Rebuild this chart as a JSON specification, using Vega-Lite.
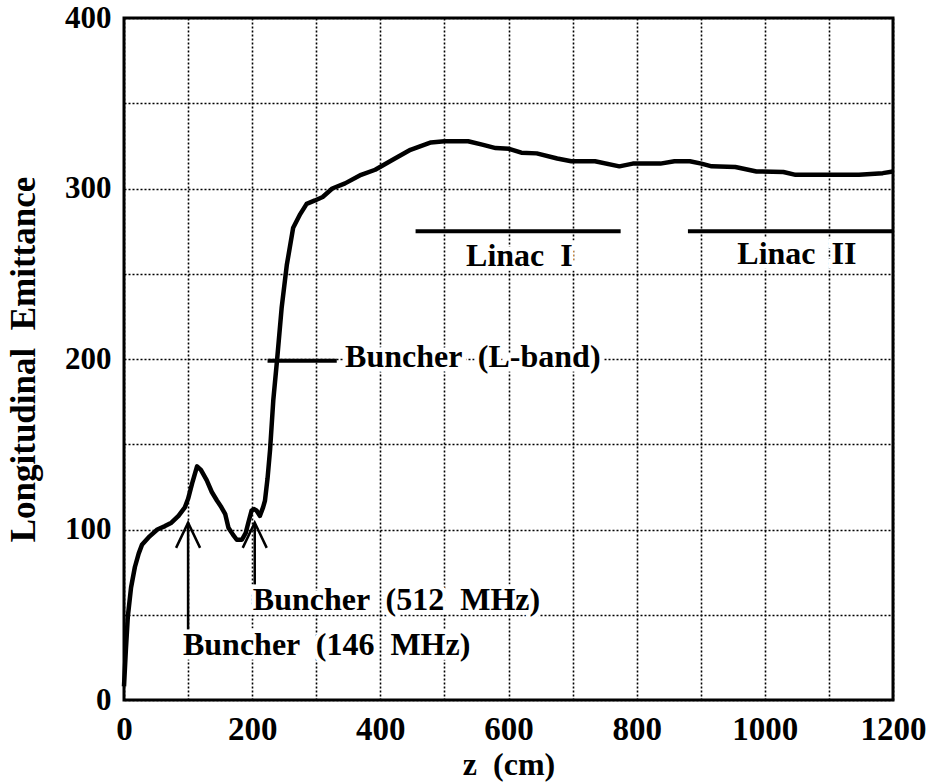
{
  "$schema": "https://vega.github.io/schema/vega-lite/v6.json",
  "width": 769,
  "height": 682,
  "autosize": {"type": "none"},
  "padding": {"left": 124, "top": 18, "right": 46, "bottom": 82},
  "background": "white",
  "config": {
    "view": {"stroke": "black", "strokeWidth": 3},
    "font": "Liberation Serif"
  },
  "datasets": {
    "curve": [
      {"z": 0, "E": 8}, {"z": 3, "E": 30}, {"z": 6, "E": 49}, {"z": 11, "E": 66}, {"z": 17, "E": 78},
      {"z": 23, "E": 86}, {"z": 28, "E": 91}, {"z": 40, "E": 96}, {"z": 52, "E": 100}, {"z": 64, "E": 102},
      {"z": 74, "E": 104}, {"z": 85, "E": 108}, {"z": 95, "E": 113}, {"z": 100, "E": 118}, {"z": 107, "E": 128},
      {"z": 114, "E": 137}, {"z": 120, "E": 135}, {"z": 129, "E": 129}, {"z": 137, "E": 122}, {"z": 145, "E": 117},
      {"z": 152, "E": 113}, {"z": 158, "E": 109}, {"z": 163, "E": 101}, {"z": 170, "E": 97}, {"z": 176, "E": 94},
      {"z": 184, "E": 94}, {"z": 190, "E": 98}, {"z": 194, "E": 104}, {"z": 199, "E": 111}, {"z": 203, "E": 112},
      {"z": 207, "E": 111}, {"z": 212, "E": 108}, {"z": 217, "E": 113}, {"z": 220, "E": 117}, {"z": 224, "E": 130},
      {"z": 228, "E": 147}, {"z": 233, "E": 176}, {"z": 239, "E": 200}, {"z": 246, "E": 230}, {"z": 254, "E": 255},
      {"z": 264, "E": 277}, {"z": 275, "E": 285}, {"z": 285, "E": 291}, {"z": 298, "E": 293}, {"z": 310, "E": 295},
      {"z": 325, "E": 300}, {"z": 345, "E": 303}, {"z": 370, "E": 308}, {"z": 392, "E": 311}, {"z": 420, "E": 317},
      {"z": 447, "E": 322.7}, {"z": 479, "E": 327}, {"z": 500, "E": 327.7}, {"z": 537, "E": 327.7}, {"z": 559, "E": 325.7},
      {"z": 580, "E": 323.7}, {"z": 601, "E": 323.3}, {"z": 620, "E": 321}, {"z": 644, "E": 320.6}, {"z": 676, "E": 317.6},
      {"z": 698, "E": 316}, {"z": 735, "E": 316}, {"z": 773, "E": 313}, {"z": 794, "E": 314.6}, {"z": 837, "E": 314.6},
      {"z": 859, "E": 316}, {"z": 883, "E": 316}, {"z": 901, "E": 314.6}, {"z": 917, "E": 313}, {"z": 954, "E": 312.6},
      {"z": 987, "E": 310}, {"z": 1029, "E": 309.7}, {"z": 1048, "E": 308}, {"z": 1094, "E": 308}, {"z": 1147, "E": 308},
      {"z": 1184, "E": 309}, {"z": 1200, "E": 310}
    ],
    "spans": [
      {"name": "Linac I", "z1": 455, "z2": 775, "E": 275},
      {"name": "Linac II", "z1": 880, "z2": 1200, "E": 275},
      {"name": "L-band pointer", "z1": 224, "z2": 332, "E": 199}
    ],
    "arrows": [
      {"name": "146 MHz", "z": 100, "tip": 104, "tail": 39},
      {"name": "512 MHz", "z": 204, "tip": 104, "tail": 64}
    ],
    "leftLabels": [
      {"text": "Buncher \u00a0(L-band)", "z": 345, "E": 195.3},
      {"text": "Buncher \u00a0(512 \u00a0MHz)", "z": 201, "E": 53},
      {"text": "Buncher \u00a0(146 \u00a0MHz)", "z": 92, "E": 26.4}
    ],
    "centerLabels": [
      {"text": "Linac \u00a0I", "z": 617, "E": 254.5},
      {"text": "Linac \u00a0II", "z": 1050, "E": 255.7}
    ]
  },
  "layer": [
    {
      "data": {"name": "curve"},
      "mark": {"type": "line", "color": "black", "strokeWidth": 4.5, "strokeJoin": "round"},
      "encoding": {
        "x": {
          "field": "z", "type": "quantitative",
          "scale": {"domain": [0, 1200], "nice": false, "zero": false},
          "axis": {
            "values": [0, 100, 200, 300, 400, 500, 600, 700, 800, 900, 1000, 1100, 1200],
            "labelExpr": "datum.value % 200 == 0 ? datum.label : ''",
            "format": "d",
            "labelFlush": false, "labelOverlap": false,
            "grid": true, "gridDash": [2, 2], "gridWidth": 1.6, "gridColor": "black", "gridOpacity": 1,
            "ticks": false, "domain": false,
            "labelFont": "Liberation Serif", "labelFontWeight": "bold", "labelFontSize": 33, "labelColor": "black",
            "labelPadding": 13,
            "title": "z \u00a0(cm)", "titleFont": "Liberation Serif", "titleFontWeight": "bold", "titleFontSize": 32,
            "titleColor": "black", "titleY": 64, "titleBaseline": "middle"
          }
        },
        "y": {
          "field": "E", "type": "quantitative",
          "scale": {"domain": [0, 400], "nice": false},
          "axis": {
            "values": [0, 50, 100, 150, 200, 250, 300, 350, 400],
            "labelExpr": "datum.value % 100 == 0 ? datum.label : ''",
            "labelFlush": false, "labelOverlap": false,
            "grid": true, "gridDash": [2, 2], "gridWidth": 1.6, "gridColor": "black", "gridOpacity": 1,
            "ticks": false, "domain": false,
            "labelFont": "Liberation Serif", "labelFontWeight": "bold", "labelFontSize": 31, "labelColor": "black",
            "labelPadding": 13,
            "title": "Longitudinal \u00a0Emittance", "titleFont": "Liberation Serif", "titleFontWeight": "bold",
            "titleFontSize": 35, "titleColor": "black", "titleX": -101, "titleY": 341, "titleBaseline": "middle"
          }
        }
      }
    },
    {
      "data": {"name": "spans"},
      "mark": {"type": "rule", "color": "black", "strokeWidth": 4},
      "encoding": {
        "x": {"field": "z1", "type": "quantitative"},
        "x2": {"field": "z2"},
        "y": {"field": "E", "type": "quantitative"}
      }
    },
    {
      "data": {"name": "arrows"},
      "mark": {"type": "rule", "color": "black", "strokeWidth": 2.5},
      "encoding": {
        "x": {"field": "z", "type": "quantitative"},
        "y": {"field": "tip", "type": "quantitative"},
        "y2": {"field": "tail"}
      }
    },
    {
      "data": {"name": "arrows"},
      "mark": {"type": "point", "shape": "M-1,2.1L0,0L1,2.1", "filled": false, "stroke": "black", "strokeWidth": 2.5, "size": 576, "opacity": 1},
      "encoding": {
        "x": {"field": "z", "type": "quantitative"},
        "y": {"field": "tip", "type": "quantitative"}
      }
    },
    {
      "data": {"name": "leftLabels"},
      "mark": {"type": "text", "font": "Liberation Serif", "fontWeight": "bold", "fontSize": 32, "baseline": "alphabetic", "align": "left", "stroke": "white", "strokeWidth": 9, "fill": "white"},
      "encoding": {
        "x": {"field": "z", "type": "quantitative"},
        "y": {"field": "E", "type": "quantitative"},
        "text": {"field": "text"}
      }
    },
    {
      "data": {"name": "centerLabels"},
      "mark": {"type": "text", "font": "Liberation Serif", "fontWeight": "bold", "fontSize": 32, "baseline": "alphabetic", "align": "center", "stroke": "white", "strokeWidth": 9, "fill": "white"},
      "encoding": {
        "x": {"field": "z", "type": "quantitative"},
        "y": {"field": "E", "type": "quantitative"},
        "text": {"field": "text"}
      }
    },
    {
      "data": {"name": "leftLabels"},
      "mark": {"type": "text", "font": "Liberation Serif", "fontWeight": "bold", "fontSize": 32, "baseline": "alphabetic", "align": "left", "fill": "black"},
      "encoding": {
        "x": {"field": "z", "type": "quantitative"},
        "y": {"field": "E", "type": "quantitative"},
        "text": {"field": "text"}
      }
    },
    {
      "data": {"name": "centerLabels"},
      "mark": {"type": "text", "font": "Liberation Serif", "fontWeight": "bold", "fontSize": 32, "baseline": "alphabetic", "align": "center", "fill": "black"},
      "encoding": {
        "x": {"field": "z", "type": "quantitative"},
        "y": {"field": "E", "type": "quantitative"},
        "text": {"field": "text"}
      }
    }
  ]
}
